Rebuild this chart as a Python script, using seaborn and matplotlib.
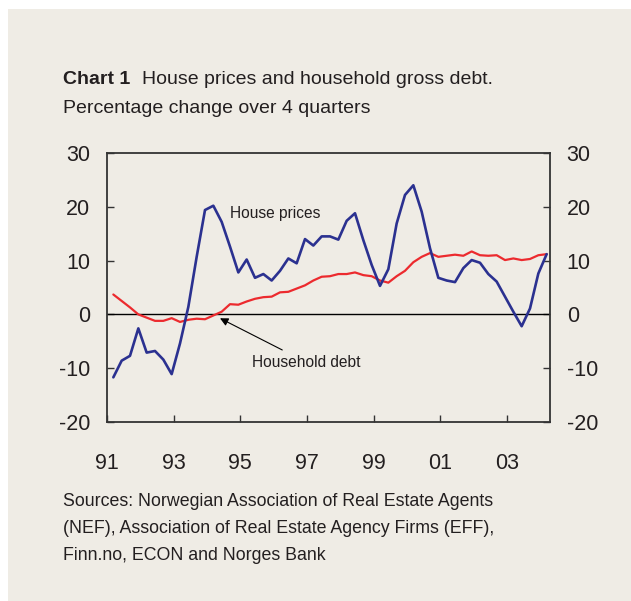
import numpy as np
import pandas as pd
import matplotlib
matplotlib.use("Agg")
import matplotlib.pyplot as plt
from matplotlib.patches import Rectangle
import seaborn as sns

# quarterly data 1991Q1 - 2004Q1, percentage change over 4 quarters
quarters = pd.period_range("1991Q1", "2004Q1", freq="Q")

house_prices = [-11.7, -8.6, -7.7, -2.6, -7.1, -6.8, -8.4, -11.1, -5.4, 1.4,
                10.7, 19.4, 20.2, 17.2, 12.6, 7.8, 10.2, 6.8, 7.5, 6.3,
                8.1, 10.4, 9.5, 14.0, 12.8, 14.5, 14.5, 13.9, 17.4, 18.8,
                13.8, 9.2, 5.3, 8.4, 16.9, 22.2, 24.0, 19.1, 12.3, 6.8,
                6.3, 6.0, 8.6, 10.1, 9.6, 7.5, 6.1, 3.3, 0.5, -2.2,
                1.1, 7.6, 11.2]

household_debt = [3.7, 2.5, 1.3, 0.0, -0.6, -1.2, -1.2, -0.7, -1.4, -1.0,
                  -0.8, -0.9, -0.2, 0.5, 1.9, 1.8, 2.4, 2.9, 3.2, 3.3,
                  4.1, 4.2, 4.8, 5.4, 6.3, 7.0, 7.1, 7.5, 7.5, 7.8,
                  7.3, 7.1, 6.3, 5.9, 7.1, 8.1, 9.7, 10.7, 11.4, 10.7,
                  10.9, 11.1, 10.9, 11.7, 11.0, 10.9, 11.0, 10.1, 10.4, 10.1,
                  10.3, 11.0, 11.2]

y_ticks = [-20, -10, 0, 10, 20, 30]
y_labels = ["-20", "-10", "0", "10", "20", "30"]
x_ticks = [1991, 1993, 1995, 1997, 1999, 2001, 2003]
x_labels = ["91", "93", "95", "97", "99", "01", "03"]

sources = ["Sources: Norwegian Association of Real Estate Agents",
           "(NEF), Association of Real Estate Agency Firms (EFF),",
           "Finn.no, ECON and Norges Bank"]

BG = "#efece5"
BLUE = "#2b3190"
RED = "#ec2a2e"
TXT = "#231f20"

def main():
    x = quarters.year + (quarters.quarter - 1) * 0.25 + 0.19
    df = pd.DataFrame({"x": x, "House prices": house_prices,
                       "Household debt": household_debt})

    sns.set_style("ticks", {"axes.facecolor": BG, "figure.facecolor": "white"})
    plt.rcParams["font.family"] = ["Liberation Sans", "DejaVu Sans"]
    plt.rcParams["axes.unicode_minus"] = False

    fig = plt.figure(figsize=(6.31, 6.01), dpi=100)
    fig.patches.append(Rectangle((8 / 631, 0), 1, 1 - 9 / 601, transform=fig.transFigure,
                                 facecolor=BG, edgecolor="none", zorder=-10))
    ax = fig.add_axes([107 / 631, 1 - 422 / 601, 443 / 631, 269 / 601])

    ax.axhline(0, color="black", lw=1.0, zorder=1)
    sns.lineplot(data=df, x="x", y="Household debt", color=RED, lw=1.6, ax=ax, zorder=3)
    sns.lineplot(data=df, x="x", y="House prices", color=BLUE, lw=1.9, ax=ax, zorder=4)

    ax.set_xlim(1991, 2004.29)
    ax.set_ylim(-20, 30)
    ax.set_yticks(y_ticks)
    ax.set_yticklabels(y_labels)
    ax.set_xticks(x_ticks)
    ax.set_xticklabels(x_labels)
    ax.set_xlabel("")
    ax.set_ylabel("")
    for s in ax.spines.values():
        s.set_visible(True)
        s.set_color("#333333")
        s.set_linewidth(1.3)
    ax.tick_params(axis="y", direction="in", length=5, width=1, color="#333333",
                   right=True, labelright=True, labelsize=15.5, labelcolor=TXT, pad=12)
    ax.tick_params(axis="x", direction="in", length=5, width=1, color="#333333",
                   labelsize=15.5, labelcolor=TXT, pad=22)

    ax.text(1994.69, 18.8, "House prices", fontsize=11.2,
            color=TXT, va="center", ha="left")
    ax.annotate("Household debt", xy=(1994.39, -0.72), xytext=(1995.34, -8.85),
                fontsize=11.2, color=TXT, va="center", ha="left",
                arrowprops=dict(arrowstyle="-|>", color="black", lw=0.8,
                                shrinkA=2, shrinkB=0, mutation_scale=12))

    fig.text(63 / 631, 1 - 80 / 601, "Chart 1", fontsize=14, fontweight="bold",
             color=TXT, va="center", ha="left")
    fig.text(142 / 631, 1 - 80 / 601, "House prices and household gross debt.",
             fontsize=14, color=TXT, va="center", ha="left")
    fig.text(63 / 631, 1 - 108 / 601, "Percentage change over 4 quarters",
             fontsize=14, color=TXT, va="center", ha="left")

    for i, line in enumerate(sources):
        fig.text(63 / 631, 1 - (502 + 26.5 * i) / 601, line,
                 fontsize=12.8, color=TXT, va="center", ha="left")

    fig.savefig("out.png", dpi=100, facecolor="white")

if __name__ == "__main__":
    main()
